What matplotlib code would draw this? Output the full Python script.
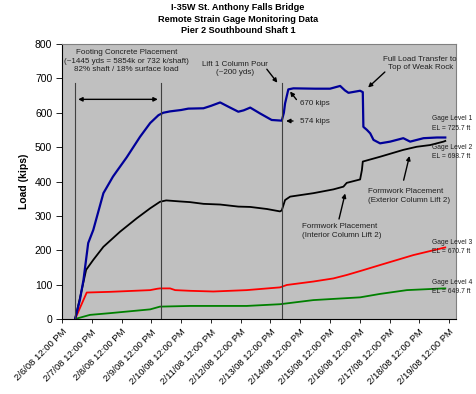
import matplotlib
matplotlib.use("Agg")
import matplotlib.pyplot as plt

plt.rcParams['font.family'] = ['Liberation Sans', 'DejaVu Sans']

# x in days after 2/6/08 12:00 PM
tick_labels = ["2/6/08 12:00 PM", "2/7/08 12:00 PM", "2/8/08 12:00 PM", "2/9/08 12:00 PM",
               "2/10/08 12:00 PM", "2/11/08 12:00 PM", "2/12/08 12:00 PM", "2/13/08 12:00 PM",
               "2/14/08 12:00 PM", "2/15/08 12:00 PM", "2/16/08 12:00 PM", "2/17/08 12:00 PM",
               "2/18/08 12:00 PM", "2/19/08 12:00 PM"]

g1_days = [0.44, 0.6, 0.72, 0.88, 1.05, 1.39, 1.71, 1.84, 2.17, 2.62, 2.96, 3.24, 3.4, 3.63,
           4.0, 4.24, 4.75, 5.0, 5.31, 5.6, 5.92, 6.1, 6.32, 6.65, 7.04, 7.38, 7.45, 7.49, 7.6,
           7.77, 8.5, 9.0, 9.34, 9.5, 9.62, 10.01, 10.1, 10.12, 10.24, 10.35, 10.46, 10.68,
           11.02, 11.46, 11.69, 12.14, 12.59, 12.87]
g1_load = [0, 55, 113, 221, 259, 366, 414, 430, 470, 530, 570, 593, 600, 604,
           608, 612, 613, 620, 630, 617, 603, 607, 615, 598, 579, 577, 600, 627, 668,
           671, 670, 670, 678, 665, 658, 664, 660, 559, 550, 540, 521, 511,
           516, 526, 516, 526, 528, 528]

g2_days = [0.44, 0.6, 0.81, 1.05, 1.39, 1.95, 2.51, 2.96, 3.29, 3.5, 3.96, 4.3, 4.75, 5.31,
           5.92, 6.32, 6.88, 7.32, 7.38, 7.49, 7.66, 8.44, 9.11, 9.45, 9.56, 10.01, 10.07,
           10.1, 10.68, 11.46, 11.91, 12.36, 12.81, 12.87]
g2_load = [0, 60, 143, 172, 210, 254, 293, 322, 341, 345, 342, 340, 335, 333,
           327, 326, 320, 313, 316, 346, 356, 366, 377, 385, 396, 406, 433,
           458, 472, 492, 501, 506, 516, 518]

g3_days = [0.44, 0.83, 1.61, 2.96, 3.2, 3.29, 3.63, 3.8, 4.3, 5.08, 6.2, 7.32, 7.55, 8.44,
           9.11, 9.56, 10.07, 10.68, 11.8, 12.81, 12.87]
g3_load = [0, 77, 79, 84, 88, 89, 89, 84, 82, 80, 84, 92, 99, 109,
           118, 128, 141, 157, 186, 207, 208]

g4_days = [0.44, 0.94, 1.61, 2.96, 3.29, 4.3, 6.2, 7.32, 8.44, 10.01, 10.68, 11.58, 12.81, 12.87]
g4_load = [0, 12, 17, 28, 36, 38, 38, 43, 55, 63, 73, 84, 89, 89]

event_days = [0.45, 3.31, 7.38]

fig = plt.figure(figsize=(4.76, 3.94), dpi=100)
ax = fig.add_axes([62/476, 1-319/394, (456-62)/476, (319-44)/394])
ax.set_facecolor('#c0c0c0')

ax.plot(g4_days, g4_load, color='#008000', lw=1.3)
ax.plot(g3_days, g3_load, color='#ff0000', lw=1.3)
ax.plot(g2_days, g2_load, color='black', lw=1.3)
ax.plot(g1_days, g1_load, color='#000099', lw=1.6)

for d in event_days:
    ax.plot([d, d], [0, 686], color='#404040', lw=0.8)

ax.set_xlim(0, 13.23)
ax.set_ylim(0, 800)
ax.set_xticks(range(len(tick_labels)))
ax.set_xticklabels(tick_labels, rotation=45, ha='right', rotation_mode='anchor', fontsize=6.8)
ax.set_yticks(range(0, 801, 100))
ax.tick_params(axis='y', labelsize=7.5, length=4, width=0.6, pad=3)
ax.tick_params(axis='x', length=3, width=0.6, pad=3)
ax.set_ylabel('Load (kips)', fontsize=7.5, fontweight='bold', labelpad=4)
for s in ['left', 'bottom']:
    ax.spines[s].set_color('black')
    ax.spines[s].set_linewidth(0.8)
for s in ['top', 'right']:
    ax.spines[s].set_color('#808080')
    ax.spines[s].set_linewidth(0.8)

fig.text(0.5, 1-19/394, "I-35W St. Anthony Falls Bridge\nRemote Strain Gage Monitoring Data\nPier 2 Southbound Shaft 1",
         ha='center', va='center', fontsize=6.6, fontweight='bold', linespacing=1.35)

fs = 5.8
tc = '#202020'
ax.text(2.17, 750, "Footing Concrete Placement\n(~1445 yds = 5854k or 732 k/shaft)\n82% shaft / 18% surface load",
        ha='center', va='center', fontsize=fs, color=tc, linespacing=1.35)
ax.annotate('', xy=(0.45, 639), xytext=(3.31, 639),
            arrowprops=dict(arrowstyle='<|-|>', color='black', lw=1.0, mutation_scale=6))

ax.text(5.81, 729, "Lift 1 Column Pour\n(~200 yds)", ha='center', va='center', fontsize=fs, color=tc, linespacing=1.35)
ax.annotate('', xy=(7.29, 681), xytext=(6.82, 733),
            arrowprops=dict(arrowstyle='-|>', color='black', lw=1.0, mutation_scale=6))

ax.text(7.99, 628, "670 kips", ha='left', va='center', fontsize=fs, color=tc)
ax.annotate('', xy=(7.6, 668), xytext=(7.93, 632),
            arrowprops=dict(arrowstyle='-|>', color='black', lw=1.0, mutation_scale=6))
ax.text(7.99, 574, "574 kips", ha='left', va='center', fontsize=fs, color=tc)
ax.annotate('', xy=(7.43, 576), xytext=(7.85, 576),
            arrowprops=dict(arrowstyle='-|>', color='black', lw=1.0, mutation_scale=6))

ax.text(12.03, 743, "Full Load Transfer to\nTop of Weak Rock", ha='center', va='center', fontsize=fs, color=tc, linespacing=1.35)
ax.annotate('', xy=(10.21, 668), xytext=(10.91, 724),
            arrowprops=dict(arrowstyle='-|>', color='black', lw=1.0, mutation_scale=6))

ax.text(10.27, 358, "Formwork Placement\n(Exterior Column Lift 2)", ha='left', va='center', fontsize=fs, color=tc, linespacing=1.35)
ax.annotate('', xy=(11.69, 482), xytext=(11.45, 396),
            arrowprops=dict(arrowstyle='-|>', color='black', lw=1.0, mutation_scale=6))

ax.text(8.07, 257, "Formwork Placement\n(Interior Column Lift 2)", ha='left', va='center', fontsize=fs, color=tc, linespacing=1.35)
ax.annotate('', xy=(9.53, 373), xytext=(9.28, 283),
            arrowprops=dict(arrowstyle='-|>', color='black', lw=1.0, mutation_scale=6))

gage_texts = ["Gage Level 1\nEL = 725.7 ft", "Gage Level 2\nEL = 698.7 ft",
              "Gage Level 3\nEL = 670.7 ft", "Gage Level 4\nEL = 649.7 ft"]
gage_y = [569, 486, 209, 94]
for t, y in zip(gage_texts, gage_y):
    ax.text(12.42, y, t, ha='left', va='center', fontsize=4.9, color=tc, linespacing=1.45, clip_on=False)

fig.savefig('out.png', dpi=100)
